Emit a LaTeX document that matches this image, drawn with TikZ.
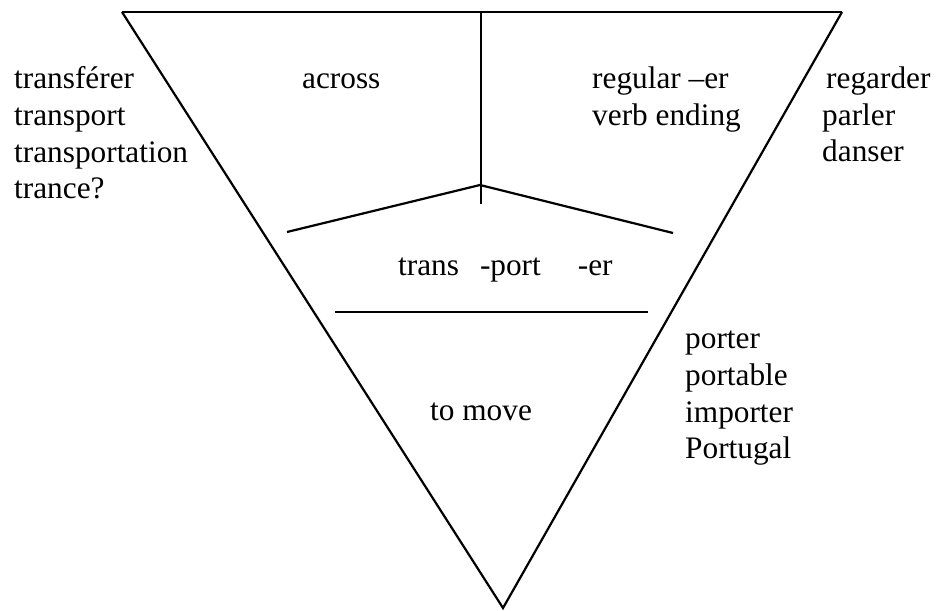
\documentclass[tikz,border=0pt]{standalone}
\usepackage{fontspec}
\setmainfont{Liberation Serif}
\begin{document}
\begin{tikzpicture}[x=1pt,y=1pt,
  word/.style={anchor=base west,inner sep=0pt,font=\fontsize{31.3}{36.7}\selectfont},
  edge/.style={line width=2.2pt,line join=miter,line cap=butt},
  rim/.style={line width=2.8pt}]
\useasboundingbox (0,0) rectangle (936,-610);

% corners and break points of the inverted triangle
\coordinate (tl) at (122,-12);
\coordinate (tr) at (842,-12);
\coordinate (bt) at (503,-608);
\coordinate (vt) at (481,-12);
\coordinate (jn) at (480,-185);
\coordinate (vb) at (481,-204);
\coordinate (le) at (287,-232);
\coordinate (re) at (673,-233);
\coordinate (hl) at (335,-312);
\coordinate (hr) at (648,-312);

% outline
\draw[edge] (tr) -- (bt) -- (tl);
\draw[rim] (tl) -- (tr);
% inner dividers
\draw[edge] (vt) -- (vb);
\draw[edge] (le) -- (jn) -- (re);
\draw[edge] (hl) -- (hr);

% inside the triangle
\node[word] (across) at (302,-88) {across};
\node[word] (reg1) at (592,-88) {regular –er};
\node[word] (reg2) at (592,-125) {verb ending};
\node[word] (parts) at (398,-275) {trans\hspace{21pt}-port\hspace{37pt}-er};
\node[word] (move) at (430,-420) {to move};

% left word list
\node[word] (w1) at (14,-88) {transférer};
\node[word] (w2) at (14,-125) {transport};
\node[word] (w3) at (14,-162) {transportation};
\node[word] (w4) at (14,-198) {trance?};

% upper right word list
\node[word] (r1) at (826,-88) {regarder};
\node[word] (r2) at (822,-125) {parler};
\node[word] (r3) at (822,-161) {danser};

% lower right word list
\node[word] (p1) at (685,-348) {porter};
\node[word] (p2) at (685,-385) {portable};
\node[word] (p3) at (685,-422) {importer};
\node[word] (p4) at (685,-458) {Portugal};
\end{tikzpicture}
\end{document}
